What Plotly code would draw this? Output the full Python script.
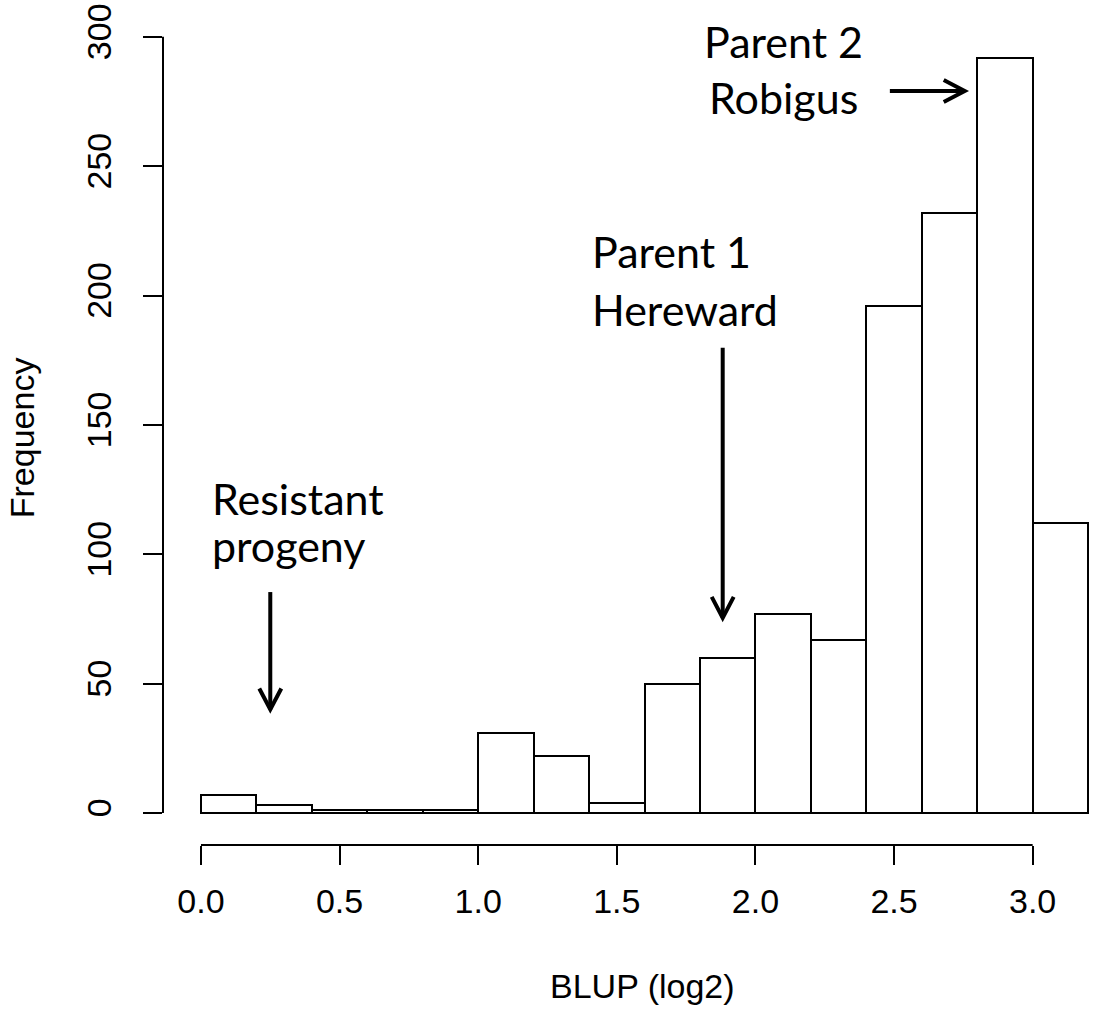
import plotly.graph_objects as go

# ---- data ----
bin_edges = [0.0, 0.2, 0.4, 0.6, 0.8, 1.0, 1.2, 1.4, 1.6, 1.8, 2.0, 2.2, 2.4, 2.6, 2.8, 3.0, 3.2]
counts = [7, 3, 1, 1, 1, 31, 22, 4, 50, 60, 77, 67, 196, 232, 292, 112]
x_tick_vals = [0.0, 0.5, 1.0, 1.5, 2.0, 2.5, 3.0]
x_tick_text = ["0.0", "0.5", "1.0", "1.5", "2.0", "2.5", "3.0"]
y_tick_vals = [0, 50, 100, 150, 200, 250, 300]
y_tick_text = ["0", "50", "100", "150", "200", "250", "300"]

centers = [(a + b) / 2 for a, b in zip(bin_edges[:-1], bin_edges[1:])]
widths = [b - a for a, b in zip(bin_edges[:-1], bin_edges[1:])]

TICK_FONT = dict(family="Liberation Sans, Arial, sans-serif", size=34, color="black")
TITLE_FONT = dict(family="Liberation Sans, Arial, sans-serif", size=34, color="black")
NOTE_FONT = dict(family="Lato, Carlito, Calibri, sans-serif", size=43, color="black")

fig = go.Figure()
fig.add_trace(go.Bar(
    x=centers, y=counts, width=widths,
    marker=dict(color="white", line=dict(color="black", width=2)),
    hoverinfo="x+y", showlegend=False,
))

fig.update_layout(
    width=1095, height=1010,
    margin=dict(l=163, r=0, t=26, b=165),
    paper_bgcolor="white", plot_bgcolor="white",
    xaxis=dict(range=[-0.137, 3.225], showgrid=False, zeroline=False, showline=False,
               tickmode="array", tickvals=x_tick_vals, ticktext=x_tick_text,
               ticks="outside", ticklen=19, tickwidth=2, tickcolor="black",
               tickfont=TICK_FONT, ticklabelstandoff=7),
    yaxis=dict(range=[-12.37, 304.2], showgrid=False, zeroline=False, showline=False,
               tickmode="array", tickvals=y_tick_vals, ticktext=y_tick_text,
               ticks="outside", ticklen=19, tickwidth=2, tickcolor="black",
               tickangle=-90, tickfont=TICK_FONT, ticklabelstandoff=18),
    bargap=0,
)

# R-style axis lines spanning first to last tick
fig.add_shape(type="line", xref="x", yref="paper", x0=x_tick_vals[0], x1=x_tick_vals[-1], y0=0, y1=0,
              line=dict(color="black", width=2))
fig.add_shape(type="line", xref="paper", yref="y", x0=0, x1=0, y0=y_tick_vals[0], y1=y_tick_vals[-1],
              line=dict(color="black", width=2))

# axis titles
fig.add_annotation(text="BLUP (log2)", xref="x", yref="paper", x=1.594, y=-0.172,
                   showarrow=False, font=TITLE_FONT, xanchor="center", yanchor="middle")
fig.add_annotation(text="Frequency", xref="paper", yref="paper", x=-0.151, y=0.497,
                   showarrow=False, font=TITLE_FONT, textangle=-90, xanchor="center", yanchor="middle")

# text notes
notes = [
    ("Resistant", 0.032, 121.4),
    ("progeny", 0.032, 103.4),
    ("Parent 1", 1.402, 216.9),
    ("Hereward", 1.402, 194.5),
    ("Parent 2", 1.806, 298.4),
    ("Robigus", 1.824, 276.5),
]
for t, x, y in notes:
    fig.add_annotation(text=t, x=x, y=y, xref="x", yref="y", showarrow=False,
                       font=NOTE_FONT, xanchor="left", yanchor="middle")

# arrows: shaft (data coords) + open V head (pixel offsets from tip)
ARROW_LINE = dict(color="black", width=4)
def v_arrow(x, y_top, y_tip):
    fig.add_shape(type="line", xref="x", yref="y", x0=x, x1=x, y0=y_top, y1=y_tip, line=ARROW_LINE)
    fig.add_shape(type="path", xref="x", yref="y", xsizemode="pixel", ysizemode="pixel",
                  xanchor=x, yanchor=y_tip, path="M -11,21 L 0,0 L 11,21", line=ARROW_LINE)

def h_arrow(y, x_start, x_tip):
    fig.add_shape(type="line", xref="x", yref="y", x0=x_start, x1=x_tip, y0=y, y1=y, line=ARROW_LINE)
    fig.add_shape(type="path", xref="x", yref="y", xsizemode="pixel", ysizemode="pixel",
                  xanchor=x_tip, yanchor=y, path="M -21,11 L 0,0 L -21,-11", line=ARROW_LINE)

v_arrow(0.25, 85.4, 40.0)
v_arrow(1.882, 179.8, 75.4)
h_arrow(279.1, 2.485, 2.755)

fig.write_html("out.html")
